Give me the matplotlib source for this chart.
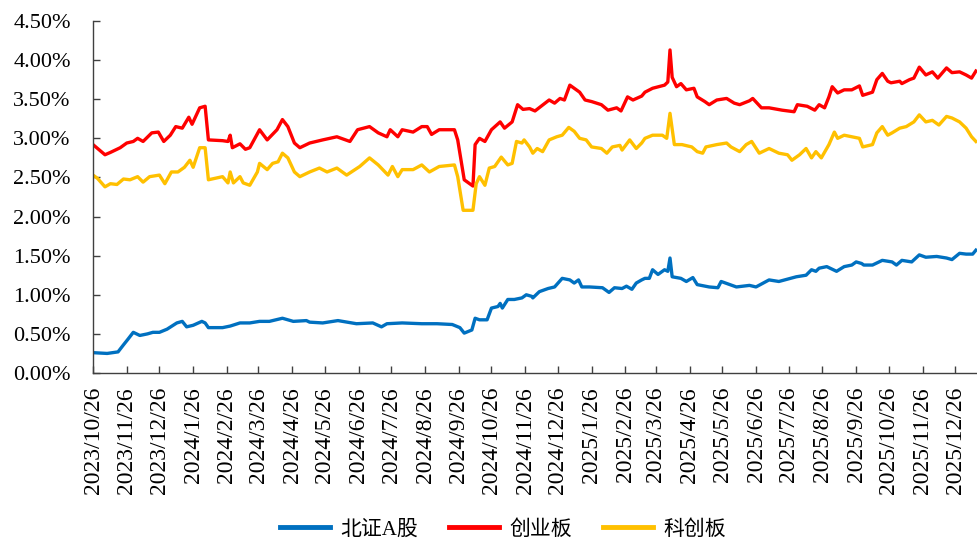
import pandas as pd
import matplotlib
matplotlib.use('Agg')
import matplotlib.pyplot as plt
from matplotlib.ticker import MultipleLocator, FuncFormatter

start = pd.Timestamp('2023-10-26')

# дні від 2023/10/26 та значення, %
bz_days = [0, 13, 23, 28, 32, 37, 43, 50, 55, 61, 68, 77, 82, 86, 92, 100, 103, 106, 119, 126,
           135, 144, 153, 162, 174, 184, 196, 199, 211, 225, 242, 257, 265, 270, 284, 302, 316, 330, 337, 341,
           348, 351, 355, 362, 366, 372, 374, 376, 381, 387, 394, 398, 403, 404, 410, 418, 424, 431, 438, 442,
           446, 449, 456, 468, 474, 479, 486, 490, 495, 499, 504, 507, 511, 514, 519, 525, 528, 530, 532, 540,
           545, 551, 555, 566, 574, 577, 583, 591, 603, 609, 621, 630, 646, 655, 660, 664, 667, 674, 683, 690,
           697, 701, 706, 708, 716, 725, 734, 738, 743, 752, 759, 765, 775, 784, 789, 796, 802, 808, 811]
bz_vals = [0.26, 0.25, 0.27, 0.36, 0.43, 0.52, 0.48, 0.50, 0.52, 0.52, 0.56, 0.64, 0.66, 0.59, 0.61, 0.66, 0.64, 0.58, 0.58, 0.60,
           0.64, 0.64, 0.66, 0.66, 0.70, 0.66, 0.67, 0.65, 0.64, 0.67, 0.63, 0.64, 0.59, 0.63, 0.64, 0.63, 0.63, 0.62, 0.58, 0.51,
           0.55, 0.70, 0.68, 0.68, 0.83, 0.85, 0.89, 0.83, 0.94, 0.94, 0.96, 1.00, 0.98, 0.96, 1.04, 1.08, 1.10, 1.21, 1.19, 1.15,
           1.19, 1.10, 1.10, 1.09, 1.03, 1.09, 1.08, 1.11, 1.07, 1.15, 1.19, 1.21, 1.21, 1.32, 1.26, 1.32, 1.30, 1.47, 1.23, 1.21,
           1.17, 1.22, 1.13, 1.10, 1.09, 1.17, 1.14, 1.10, 1.12, 1.10, 1.19, 1.17, 1.23, 1.25, 1.32, 1.30, 1.34, 1.36, 1.30, 1.36,
           1.38, 1.42, 1.40, 1.38, 1.38, 1.44, 1.42, 1.38, 1.44, 1.42, 1.51, 1.48, 1.49, 1.47, 1.45, 1.53, 1.52, 1.52, 1.57]

cyb_days = [0, 11, 16, 25, 31, 37, 41, 46, 54, 60, 65, 71, 76, 82, 88, 91, 98, 103, 106, 119,
            124, 126, 128, 135, 140, 144, 153, 160, 169, 174, 179, 185, 190, 199, 211, 224, 236, 243, 254, 262,
            270, 273, 280, 284, 294, 302, 307, 311, 318, 332, 335, 341, 349, 351, 355, 360, 366, 374, 378, 385,
            390, 395, 401, 406, 419, 424, 429, 433, 438, 442, 447, 452, 458, 467, 473, 481, 485, 491, 496, 504,
            507, 514, 525, 528, 530, 532, 536, 540, 545, 552, 555, 562, 566, 573, 582, 589, 594, 603, 606, 614,
            621, 633, 644, 647, 656, 663, 667, 672, 676, 679, 684, 690, 697, 704, 707, 716, 720, 725, 730, 733,
            741, 743, 750, 754, 759, 765, 771, 776, 784, 789, 796, 802, 807, 811]
cyb_vals = [2.92, 2.79, 2.82, 2.88, 2.94, 2.96, 3.00, 2.96, 3.07, 3.08, 2.96, 3.04, 3.15, 3.13, 3.27, 3.18, 3.39, 3.41, 2.98, 2.97,
            2.96, 3.04, 2.88, 2.93, 2.86, 2.88, 3.11, 2.98, 3.11, 3.24, 3.15, 2.94, 2.88, 2.94, 2.98, 3.02, 2.96, 3.11, 3.15, 3.07,
            3.02, 3.11, 3.02, 3.11, 3.08, 3.15, 3.15, 3.05, 3.11, 3.11, 2.98, 2.47, 2.39, 2.92, 3.00, 2.96, 3.11, 3.21, 3.13, 3.21,
            3.43, 3.37, 3.38, 3.35, 3.49, 3.45, 3.51, 3.49, 3.68, 3.64, 3.59, 3.49, 3.47, 3.43, 3.36, 3.39, 3.35, 3.53, 3.49, 3.54,
            3.59, 3.64, 3.68, 3.72, 4.13, 3.78, 3.66, 3.70, 3.62, 3.64, 3.53, 3.47, 3.43, 3.49, 3.51, 3.45, 3.43, 3.48, 3.51, 3.39,
            3.39, 3.36, 3.34, 3.43, 3.41, 3.36, 3.43, 3.39, 3.53, 3.66, 3.58, 3.62, 3.62, 3.67, 3.55, 3.59, 3.75, 3.83, 3.73, 3.71,
            3.73, 3.70, 3.75, 3.77, 3.91, 3.81, 3.85, 3.77, 3.90, 3.84, 3.85, 3.81, 3.77, 3.86]

kcb_days = [0, 4, 11, 16, 22, 28, 34, 41, 46, 52, 61, 66, 72, 78, 84, 89, 92, 98, 103, 106,
            119, 124, 126, 129, 135, 138, 144, 151, 153, 160, 165, 170, 174, 179, 185, 190, 199, 208, 215, 224,
            233, 245, 254, 262, 271, 275, 280, 284, 294, 302, 309, 318, 332, 335, 340, 349, 352, 355, 360, 364,
            369, 375, 381, 385, 389, 394, 396, 401, 404, 408, 413, 419, 426, 431, 437, 442, 447, 453, 458, 467,
            472, 477, 484, 486, 493, 499, 504, 507, 514, 523, 527, 530, 534, 541, 550, 555, 560, 563, 573, 582,
            586, 594, 600, 605, 612, 621, 630, 638, 642, 649, 655, 660, 664, 669, 674, 676, 681, 684, 690, 697,
            704, 707, 716, 720, 725, 730, 734, 741, 747, 754, 759, 765, 771, 777, 784, 789, 796, 802, 807, 811]
kcb_vals = [2.53, 2.49, 2.38, 2.42, 2.41, 2.48, 2.47, 2.51, 2.44, 2.51, 2.53, 2.42, 2.57, 2.57, 2.63, 2.72, 2.63, 2.88, 2.88, 2.47,
            2.51, 2.43, 2.57, 2.43, 2.51, 2.43, 2.40, 2.57, 2.68, 2.60, 2.68, 2.70, 2.81, 2.75, 2.57, 2.51, 2.57, 2.62, 2.57, 2.62,
            2.53, 2.64, 2.75, 2.66, 2.53, 2.64, 2.51, 2.60, 2.60, 2.66, 2.57, 2.64, 2.66, 2.51, 2.08, 2.08, 2.42, 2.51, 2.40, 2.62,
            2.64, 2.76, 2.66, 2.68, 2.96, 2.94, 2.98, 2.89, 2.81, 2.87, 2.83, 2.98, 3.02, 3.04, 3.14, 3.09, 3.00, 2.98, 2.89, 2.87,
            2.81, 2.89, 2.91, 2.85, 2.98, 2.87, 2.94, 3.00, 3.04, 3.04, 3.00, 3.32, 2.92, 2.92, 2.89, 2.83, 2.81, 2.89, 2.92, 2.94,
            2.89, 2.83, 2.92, 2.96, 2.81, 2.87, 2.81, 2.79, 2.72, 2.79, 2.87, 2.75, 2.83, 2.75, 2.87, 2.92, 3.08, 3.00, 3.04, 3.02,
            3.00, 2.89, 2.92, 3.07, 3.15, 3.04, 3.07, 3.13, 3.15, 3.21, 3.30, 3.21, 3.23, 3.17, 3.28, 3.26, 3.21, 3.13, 3.02, 2.96]

names = ['北证A股', '创业板', '科创板']
colors = ['#0070C0', '#FF0000', '#FFC000']
tick_dates = [start + pd.DateOffset(months=i) for i in range(27)]


def to_dates(days):
    return start + pd.to_timedelta(days, unit='D')


fig = plt.figure(figsize=(9.77, 5.44), dpi=100)
ax = fig.add_axes([93 / 977, 1 - 373 / 544, 884 / 977, 352 / 544])

series = [(bz_days, bz_vals), (cyb_days, cyb_vals), (kcb_days, kcb_vals)]
for (days, vals), name, c in zip(series, names, colors):
    ax.plot(to_dates(days), vals, color=c, lw=2.4, label=name, solid_joinstyle='round')

ax.set_xlim(start, start + pd.Timedelta(days=812))
ax.set_ylim(0, 4.5)
ax.yaxis.set_major_locator(MultipleLocator(0.5))
ax.yaxis.set_major_formatter(FuncFormatter(lambda v, p: f"{v:.2f}%"))

ax.set_xticks(tick_dates)
ax.set_xticklabels([f"{d.year}/{d.month}/{d.day}" for d in tick_dates],
                   rotation=90, family='Liberation Serif', fontsize=17)
for lab in ax.get_yticklabels():
    lab.set_family('Liberation Serif')
    lab.set_fontsize(16)

for s in ['top', 'right']:
    ax.spines[s].set_visible(False)
for s in ['left', 'bottom']:
    ax.spines[s].set_color('#404040')
    ax.spines[s].set_linewidth(1.0)
ax.tick_params(axis='both', direction='in', length=5, width=1, color='#404040', labelcolor='black')
ax.tick_params(axis='y', pad=16)
ax.tick_params(axis='x', pad=10)

fig.legend(loc='center', bbox_to_anchor=(0.515, 0.026), ncol=3, frameon=False,
           prop={'family': ['Liberation Serif', 'Noto Sans CJK SC'], 'size': 15},
           handlelength=2.4, handletextpad=0.5, columnspacing=1.5)
for line in fig.legends[0].get_lines():
    line.set_linewidth(3.5)

fig.savefig('out.png', dpi=100)
